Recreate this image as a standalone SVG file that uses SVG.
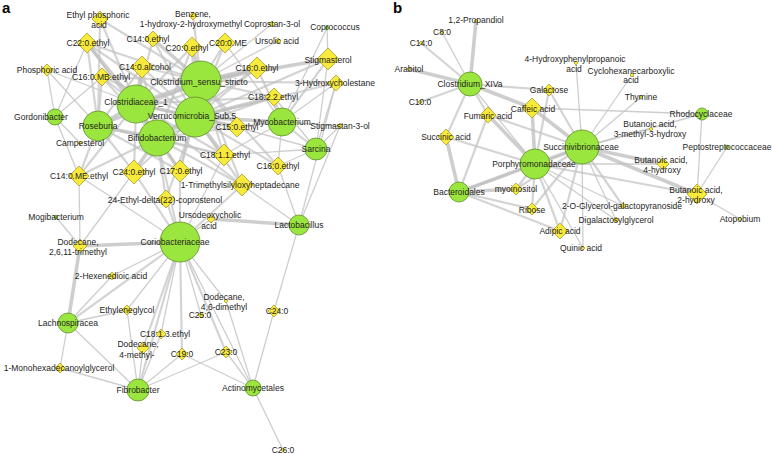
<svg xmlns="http://www.w3.org/2000/svg" width="772" height="454" viewBox="0 0 772 454">
<style>
.e1{stroke:#c6c6c6;stroke-width:1.3;stroke-opacity:.85}
.e2{stroke:#c2c2c2;stroke-width:2.2;stroke-opacity:.7}
.e3{stroke:#bdbdbd;stroke-width:3.6;stroke-opacity:.75}
.g{fill:#9be53f;stroke:#5f8f2a;stroke-width:.8}
.y{fill:#f7ea3a;stroke:#9f9424;stroke-width:.7}
text{font-family:"Liberation Sans",Arial,sans-serif;font-size:8.5px;fill:#1e1e1e;text-anchor:middle}
.pl{font-size:15px;font-weight:bold;text-anchor:start;fill:#000}
</style>
<rect width="772" height="454" fill="#fff"/>
<g id="connectors" stroke-linecap="round">
<g class="e1">
<line x1="55" y1="117" x2="47" y2="70"/><line x1="55" y1="117" x2="87" y2="43"/><line x1="55" y1="117" x2="102" y2="77"/><line x1="55" y1="117" x2="79" y2="176"/><line x1="55" y1="117" x2="80" y2="143"/>
<line x1="98" y1="126" x2="47" y2="70"/><line x1="136" y1="104" x2="47" y2="70"/>
<line x1="282" y1="122" x2="336" y2="83"/><line x1="282" y1="122" x2="278" y2="166"/><line x1="282" y1="122" x2="225" y2="43"/><line x1="282" y1="122" x2="327" y2="28"/><line x1="282" y1="122" x2="224" y2="155"/>
<line x1="316" y1="149" x2="224" y2="155"/><line x1="316" y1="149" x2="278" y2="166"/><line x1="316" y1="149" x2="328" y2="59"/><line x1="316" y1="149" x2="336" y2="83"/><line x1="316" y1="149" x2="274" y2="97"/><line x1="316" y1="149" x2="237" y2="127"/>
<line x1="299" y1="225" x2="278" y2="166"/><line x1="299" y1="225" x2="242" y2="185"/><line x1="299" y1="225" x2="340" y2="126"/><line x1="299" y1="225" x2="274" y2="311"/><line x1="299" y1="225" x2="336" y2="83"/>
<line x1="180" y1="242" x2="112" y2="276"/><line x1="180" y1="242" x2="127" y2="310"/><line x1="180" y1="242" x2="161" y2="334"/><line x1="180" y1="242" x2="201" y2="315"/><line x1="180" y1="242" x2="226" y2="301"/><line x1="180" y1="242" x2="253" y2="388"/><line x1="180" y1="242" x2="79" y2="176"/><line x1="180" y1="242" x2="224" y2="155"/><line x1="180" y1="242" x2="211" y2="219"/>
<line x1="68" y1="323" x2="127" y2="310"/><line x1="68" y1="323" x2="60" y2="368"/><line x1="68" y1="323" x2="138" y2="390"/><line x1="68" y1="323" x2="112" y2="276"/>
<line x1="138" y1="390" x2="60" y2="368"/><line x1="138" y1="390" x2="143" y2="348"/><line x1="138" y1="390" x2="161" y2="334"/><line x1="138" y1="390" x2="182" y2="354"/><line x1="138" y1="390" x2="226" y2="352"/><line x1="138" y1="390" x2="127" y2="310"/>
<line x1="253" y1="388" x2="274" y2="311"/><line x1="253" y1="388" x2="226" y2="352"/><line x1="253" y1="388" x2="283" y2="450"/><line x1="253" y1="388" x2="182" y2="354"/><line x1="253" y1="388" x2="226" y2="301"/>
<line x1="56" y1="217" x2="80" y2="246"/><line x1="80" y1="246" x2="134" y2="172"/><line x1="80" y1="246" x2="79" y2="176"/>
<line x1="201" y1="81" x2="272" y2="24"/><line x1="201" y1="81" x2="278" y2="41"/><line x1="327" y1="28" x2="328" y2="59"/><line x1="340" y1="126" x2="282" y2="122"/><line x1="340" y1="126" x2="316" y2="149"/>
<line x1="470" y1="84" x2="442" y2="32"/><line x1="582" y1="147" x2="576" y2="63"/><line x1="582" y1="147" x2="632" y2="75"/><line x1="582" y1="147" x2="641" y2="97"/><line x1="582" y1="147" x2="651" y2="129"/><line x1="582" y1="147" x2="616" y2="220"/><line x1="582" y1="147" x2="583" y2="248"/>
<line x1="535" y1="164" x2="583" y2="248"/><line x1="535" y1="164" x2="623" y2="206"/><line x1="532" y1="108" x2="702" y2="114"/><line x1="702" y1="114" x2="697" y2="194"/><line x1="727" y1="147" x2="697" y2="194"/><line x1="740" y1="219" x2="697" y2="194"/><line x1="535" y1="164" x2="616" y2="220"/><line x1="470" y1="84" x2="535" y2="164"/><line x1="535" y1="164" x2="663" y2="164"/><line x1="582" y1="147" x2="702" y2="114"/>
</g>
<g class="e2">
<line x1="136" y1="104" x2="100" y2="19"/><line x1="136" y1="104" x2="153" y2="39"/><line x1="136" y1="104" x2="192" y2="47"/><line x1="136" y1="104" x2="102" y2="77"/><line x1="136" y1="104" x2="257" y2="68"/><line x1="136" y1="104" x2="274" y2="97"/><line x1="136" y1="104" x2="237" y2="127"/><line x1="136" y1="104" x2="224" y2="155"/><line x1="136" y1="104" x2="134" y2="172"/><line x1="136" y1="104" x2="180" y2="171"/><line x1="136" y1="104" x2="79" y2="176"/><line x1="136" y1="104" x2="242" y2="185"/>
<line x1="201" y1="81" x2="100" y2="19"/><line x1="201" y1="81" x2="87" y2="43"/><line x1="201" y1="81" x2="225" y2="43"/><line x1="201" y1="81" x2="193" y2="16"/><line x1="201" y1="81" x2="142" y2="67"/><line x1="201" y1="81" x2="102" y2="77"/><line x1="201" y1="81" x2="274" y2="97"/><line x1="201" y1="81" x2="237" y2="127"/><line x1="201" y1="81" x2="224" y2="155"/><line x1="201" y1="81" x2="180" y2="171"/><line x1="201" y1="81" x2="336" y2="83"/><line x1="201" y1="81" x2="242" y2="185"/><line x1="201" y1="81" x2="278" y2="166"/><line x1="201" y1="81" x2="98" y2="126"/>
<line x1="195" y1="117" x2="87" y2="43"/><line x1="195" y1="117" x2="153" y2="39"/><line x1="195" y1="117" x2="192" y2="47"/><line x1="195" y1="117" x2="225" y2="43"/><line x1="195" y1="117" x2="142" y2="67"/><line x1="195" y1="117" x2="102" y2="77"/><line x1="195" y1="117" x2="257" y2="68"/><line x1="195" y1="117" x2="134" y2="172"/><line x1="195" y1="117" x2="180" y2="171"/><line x1="195" y1="117" x2="166" y2="199"/><line x1="195" y1="117" x2="242" y2="185"/><line x1="195" y1="117" x2="328" y2="59"/><line x1="195" y1="117" x2="278" y2="166"/><line x1="195" y1="117" x2="336" y2="83"/>
<line x1="157" y1="138" x2="87" y2="43"/><line x1="157" y1="138" x2="142" y2="67"/><line x1="157" y1="138" x2="102" y2="77"/><line x1="157" y1="138" x2="257" y2="68"/><line x1="157" y1="138" x2="274" y2="97"/><line x1="157" y1="138" x2="237" y2="127"/><line x1="157" y1="138" x2="224" y2="155"/><line x1="157" y1="138" x2="79" y2="176"/><line x1="157" y1="138" x2="166" y2="199"/><line x1="157" y1="138" x2="242" y2="185"/><line x1="157" y1="138" x2="192" y2="47"/><line x1="157" y1="138" x2="180" y2="242"/>
<line x1="98" y1="126" x2="87" y2="43"/><line x1="98" y1="126" x2="100" y2="19"/><line x1="98" y1="126" x2="142" y2="67"/><line x1="98" y1="126" x2="102" y2="77"/><line x1="98" y1="126" x2="79" y2="176"/><line x1="98" y1="126" x2="134" y2="172"/><line x1="98" y1="126" x2="180" y2="171"/><line x1="98" y1="126" x2="257" y2="68"/><line x1="98" y1="126" x2="224" y2="155"/>
<line x1="180" y1="242" x2="180" y2="171"/><line x1="180" y1="242" x2="242" y2="185"/><line x1="180" y1="242" x2="166" y2="199"/><line x1="180" y1="242" x2="134" y2="172"/><line x1="180" y1="242" x2="138" y2="390"/><line x1="180" y1="242" x2="68" y2="323"/><line x1="180" y1="242" x2="143" y2="348"/><line x1="180" y1="242" x2="182" y2="354"/><line x1="180" y1="242" x2="226" y2="352"/>
<line x1="282" y1="122" x2="328" y2="59"/><line x1="282" y1="122" x2="257" y2="68"/><line x1="282" y1="122" x2="274" y2="97"/><line x1="282" y1="122" x2="237" y2="127"/><line x1="282" y1="122" x2="316" y2="149"/>
<line x1="470" y1="84" x2="421" y2="43"/><line x1="470" y1="84" x2="420" y2="102"/><line x1="470" y1="84" x2="549" y2="90"/><line x1="470" y1="84" x2="488" y2="115"/><line x1="470" y1="84" x2="446" y2="137"/>
<line x1="582" y1="147" x2="488" y2="115"/><line x1="582" y1="147" x2="549" y2="90"/><line x1="582" y1="147" x2="516" y2="189"/><line x1="582" y1="147" x2="532" y2="209"/><line x1="582" y1="147" x2="560" y2="231"/><line x1="582" y1="147" x2="459" y2="192"/>
<line x1="535" y1="164" x2="446" y2="137"/><line x1="535" y1="164" x2="516" y2="189"/><line x1="535" y1="164" x2="532" y2="209"/><line x1="535" y1="164" x2="560" y2="231"/><line x1="535" y1="164" x2="549" y2="90"/>
<line x1="459" y1="192" x2="488" y2="115"/><line x1="459" y1="192" x2="532" y2="209"/><line x1="459" y1="192" x2="560" y2="231"/><line x1="535" y1="164" x2="697" y2="194"/><line x1="582" y1="147" x2="623" y2="206"/>
</g>
<g class="e3">
<line x1="136" y1="104" x2="201" y2="81"/><line x1="136" y1="104" x2="195" y2="117"/><line x1="136" y1="104" x2="157" y2="138"/><line x1="201" y1="81" x2="195" y2="117"/><line x1="195" y1="117" x2="157" y2="138"/><line x1="136" y1="104" x2="98" y2="126"/><line x1="157" y1="138" x2="98" y2="126"/>
<line x1="201" y1="81" x2="257" y2="68"/><line x1="195" y1="117" x2="237" y2="127"/><line x1="136" y1="104" x2="142" y2="67"/><line x1="201" y1="81" x2="192" y2="47"/><line x1="195" y1="117" x2="224" y2="155"/><line x1="157" y1="138" x2="134" y2="172"/><line x1="157" y1="138" x2="180" y2="171"/>
<line x1="180" y1="242" x2="80" y2="246"/><line x1="299" y1="225" x2="211" y2="219"/><line x1="68" y1="323" x2="80" y2="246"/><line x1="136" y1="104" x2="87" y2="43"/><line x1="201" y1="81" x2="153" y2="39"/><line x1="195" y1="117" x2="274" y2="97"/><line x1="201" y1="81" x2="328" y2="59"/><line x1="195" y1="117" x2="282" y2="122"/>
<line x1="470" y1="84" x2="476" y2="21"/><line x1="470" y1="84" x2="409" y2="69"/><line x1="470" y1="84" x2="532" y2="108"/><line x1="582" y1="147" x2="663" y2="164"/><line x1="582" y1="147" x2="697" y2="194"/><line x1="459" y1="192" x2="446" y2="137"/><line x1="459" y1="192" x2="516" y2="189"/><line x1="535" y1="164" x2="532" y2="108"/><line x1="582" y1="147" x2="532" y2="108"/><line x1="535" y1="164" x2="488" y2="115"/><line x1="582" y1="147" x2="535" y2="164"/><line x1="459" y1="192" x2="535" y2="164"/>
</g>
</g>
<text class="pl" x="2" y="13">a</text>
<text class="pl" x="393" y="13">b</text>
<g id="Clostridiaceae_1"><circle class="g" cx="136" cy="104" r="19"/><text x="136" y="105">Clostridiaceae_1</text></g>
<g id="Clostridium_sensu_stricto"><circle class="g" cx="201" cy="81" r="20"/><text x="199" y="85">Clostridium_sensu_stricto</text></g>
<g id="Verrucomicrobia_Sub5"><circle class="g" cx="195" cy="117" r="20"/><text x="192" y="119">Verrucomicrobia_Sub.5</text></g>
<g id="Bifidobacterium"><circle class="g" cx="157" cy="138" r="18"/><text x="157" y="141">Bifidobacterium</text></g>
<g id="Roseburia"><circle class="g" cx="98" cy="126" r="15"/><text x="98" y="129">Roseburia</text></g>
<g id="Gordonibacter"><circle class="g" cx="55" cy="117" r="8"/><text x="41" y="120">Gordonibacter</text></g>
<g id="Mycobacterium"><circle class="g" cx="282" cy="122" r="14"/><text x="282" y="125">Mycobacterium</text></g>
<g id="Sarcina"><circle class="g" cx="316" cy="149" r="11"/><text x="316" y="152">Sarcina</text></g>
<g id="Lactobacillus"><circle class="g" cx="299" cy="225" r="10"/><text x="299" y="228">Lactobacillus</text></g>
<g id="Coriobacteriaceae"><circle class="g" cx="180" cy="242" r="20"/><text x="175" y="245">Coriobacteriaceae</text></g>
<g id="Lachnospiracea"><circle class="g" cx="68" cy="323" r="10"/><text x="68" y="326">Lachnospiracea</text></g>
<g id="Fibrobacter"><circle class="g" cx="138" cy="390" r="11"/><text x="138" y="393">Fibrobacter</text></g>
<g id="Actinomycetales"><circle class="g" cx="253" cy="388" r="8"/><text x="253" y="391">Actinomycetales</text></g>
<g id="Mogibacterium"><circle class="g" cx="56" cy="217" r="1.8"/><text x="56" y="220">Mogibacterium</text></g>
<g id="Coprococcus"><circle class="g" cx="327" cy="28" r="1.8"/><text x="335" y="30">Coprococcus</text></g>
<g id="Ethyl_phosphoric_acid"><path class="y" d="M100,11l8,8l-8,8l-8,-8z"/><text x="98" y="18">Ethyl phosphoric</text><text x="99" y="28">acid</text></g>
<g id="Benzene"><path class="y" d="M193,12l4,4l-4,4l-4,-4z"/><text x="193" y="17">Benzene,</text><text x="191" y="27">1-hydroxy-2-hydroxymethyl</text></g>
<g id="C22_0_ethyl"><path class="y" d="M87,33l10,10l-10,10l-10,-10z"/><text x="88" y="46">C22:0.ethyl</text></g>
<g id="C14_0_ethyl"><path class="y" d="M153,31l8,8l-8,8l-8,-8z"/><text x="148" y="42">C14:0.ethyl</text></g>
<g id="C20_0_ethyl"><path class="y" d="M192,37l10,10l-10,10l-10,-10z"/><text x="187" y="51">C20:0.ethyl</text></g>
<g id="C20_0_ME"><path class="y" d="M225,33l10,10l-10,10l-10,-10z"/><text x="228" y="46">C20:0.ME</text></g>
<g id="Coprostan-3-ol"><path class="y" d="M272,21l3,3l-3,3l-3,-3z"/><text x="272" y="27">Coprostan-3-ol</text></g>
<g id="Ursolic_acid"><path class="y" d="M278,38l3,3l-3,3l-3,-3z"/><text x="277" y="44">Ursolic acid</text></g>
<g id="Stigmasterol"><path class="y" d="M328,48l11,11l-11,11l-11,-11z"/><text x="328" y="63">Stigmasterol</text></g>
<g id="3-Hydroxycholestane"><path class="y" d="M336,75l8,8l-8,8l-8,-8z"/><text x="335" y="86">3-Hydroxycholestane</text></g>
<g id="C18_0_ethyl"><path class="y" d="M257,57l11,11l-11,11l-11,-11z"/><text x="257" y="71">C18:0.ethyl</text></g>
<g id="C18_2_2_ethyl"><path class="y" d="M274,88l9,9l-9,9l-9,-9z"/><text x="273" y="100">C18:2.2.ethyl</text></g>
<g id="Stigmastan-3-ol"><path class="y" d="M340,123l3,3l-3,3l-3,-3z"/><text x="340" y="129">Stigmastan-3-ol</text></g>
<g id="C15_0_ethyl"><path class="y" d="M237,117l10,10l-10,10l-10,-10z"/><text x="237" y="130">C15:0.ethyl</text></g>
<g id="C14_0_alcohol"><path class="y" d="M142,56l11,11l-11,11l-11,-11z"/><text x="145" y="70">C14:0.alcohol</text></g>
<g id="C16_0_MB_ethyl"><path class="y" d="M102,68l9,9l-9,9l-9,-9z"/><text x="101" y="80">C16:0.MB.ethyl</text></g>
<g id="Phosphoric_acid"><path class="y" d="M47,64l6,6l-6,6l-6,-6z"/><text x="47" y="73">Phosphoric acid</text></g>
<g id="Campesterol"><path class="y" d="M80,141l2,2l-2,2l-2,-2z"/><text x="80" y="146">Campesterol</text></g>
<g id="C14_0_ME_ethyl"><path class="y" d="M79,166l10,10l-10,10l-10,-10z"/><text x="79" y="179">C14:0.ME.ethyl</text></g>
<g id="C24_0_ethyl"><path class="y" d="M134,160l12,12l-12,12l-12,-12z"/><text x="134" y="175">C24:0.ethyl</text></g>
<g id="C17_0_ethyl"><path class="y" d="M180,160l11,11l-11,11l-11,-11z"/><text x="181" y="174">C17:0.ethyl</text></g>
<g id="C18_1_1_ethyl"><path class="y" d="M224,144l11,11l-11,11l-11,-11z"/><text x="225" y="158">C18:1.1.ethyl</text></g>
<g id="C16_0_ethyl"><path class="y" d="M278,157l9,9l-9,9l-9,-9z"/><text x="278" y="169">C16:0.ethyl</text></g>
<g id="1-Trimethylsilyloxyheptadecane"><path class="y" d="M242,174l11,11l-11,11l-11,-11z"/><text x="240" y="188">1-Trimethylsilyloxyheptadecane</text></g>
<g id="24-Ethyl-delta22-coprostenol"><path class="y" d="M166,190l9,9l-9,9l-9,-9z"/><text x="165" y="203">24-Ethyl-delta(22)-coprostenol</text></g>
<g id="Ursodeoxycholic_acid"><path class="y" d="M211,215l4,4l-4,4l-4,-4z"/><text x="210" y="218">Ursodeoxycholic</text><text x="209" y="229">acid</text></g>
<g id="Dodecane_2_6_11-trimethyl"><path class="y" d="M80,239l7,7l-7,7l-7,-7z"/><text x="78" y="245">Dodecane,</text><text x="78" y="255">2,6,11-trimethyl</text></g>
<g id="2-Hexenedioic_acid"><path class="y" d="M112,272l4,4l-4,4l-4,-4z"/><text x="111" y="279">2-Hexenedioic acid</text></g>
<g id="Ethyleneglycol"><path class="y" d="M127,305l5,5l-5,5l-5,-5z"/><text x="127" y="313">Ethyleneglycol</text></g>
<g id="C18_1_3_ethyl"><path class="y" d="M161,329l5,5l-5,5l-5,-5z"/><text x="165" y="337">C18:1.3.ethyl</text></g>
<g id="Dodecane_4-methyl"><path class="y" d="M143,342l6,6l-6,6l-6,-6z"/><text x="138" y="347">Dodecane,</text><text x="137" y="358">4-methyl-</text></g>
<g id="C19_0"><path class="y" d="M182,348l6,6l-6,6l-6,-6z"/><text x="182" y="357">C19:0</text></g>
<g id="1-Monohexadecanoylglycerol"><path class="y" d="M60,363l5,5l-5,5l-5,-5z"/><text x="59" y="371">1-Monohexadecanoylglycerol</text></g>
<g id="C25_0"><path class="y" d="M201,312l3,3l-3,3l-3,-3z"/><text x="200" y="318">C25:0</text></g>
<g id="Dodecane_4_6-dimethyl"><path class="y" d="M226,299l2,2l-2,2l-2,-2z"/><text x="224" y="300">Dodecane,</text><text x="224" y="310">4,6-dimethyl</text></g>
<g id="C24_0"><path class="y" d="M274,305l6,6l-6,6l-6,-6z"/><text x="277" y="314">C24:0</text></g>
<g id="C23_0"><path class="y" d="M226,346l6,6l-6,6l-6,-6z"/><text x="226" y="355">C23:0</text></g>
<g id="C26_0"><path class="y" d="M283,448l2,2l-2,2l-2,-2z"/><text x="283" y="453">C26:0</text></g>
<g id="Clostridium_XIVa"><circle class="g" cx="470" cy="84" r="12"/><text x="470" y="87">Clostridium_XIVa</text></g>
<g id="Succinivibrionaceae"><circle class="g" cx="582" cy="147" r="17"/><text x="581" y="150">Succinivibrionaceae</text></g>
<g id="Porphyromonadaceae"><circle class="g" cx="535" cy="164" r="15"/><text x="534" y="167">Porphyromonadaceae</text></g>
<g id="Bacteroidales"><circle class="g" cx="459" cy="192" r="10"/><text x="459" y="195">Bacteroidales</text></g>
<g id="Rhodocyclaceae"><circle class="g" cx="702" cy="114" r="6"/><text x="701" y="117">Rhodocyclaceae</text></g>
<g id="Peptostreptococcaceae"><circle class="g" cx="727" cy="147" r="1.8"/><text x="727" y="150">Peptostreptococcaceae</text></g>
<g id="Atopobium"><path class="y" d="M740,217l2,2l-2,2l-2,-2z"/><text x="740" y="222">Atopobium</text></g>
<g id="1_2-Propandiol"><path class="y" d="M476,19l2,2l-2,2l-2,-2z"/><text x="476" y="23">1,2-Propandiol</text></g>
<g id="C8_0"><path class="y" d="M442,30l2,2l-2,2l-2,-2z"/><text x="442" y="35">C8:0</text></g>
<g id="C14_0"><path class="y" d="M421,41l2,2l-2,2l-2,-2z"/><text x="421" y="46">C14:0</text></g>
<g id="Arabitol"><path class="y" d="M409,67l2,2l-2,2l-2,-2z"/><text x="409" y="72">Arabitol</text></g>
<g id="C10_0"><path class="y" d="M420,100l2,2l-2,2l-2,-2z"/><text x="420" y="105">C10:0</text></g>
<g id="4-Hydroxyphenylpropanoic_acid"><path class="y" d="M576,61l2,2l-2,2l-2,-2z"/><text x="575" y="62">4-Hydroxyphenylpropanoic</text><text x="574" y="72">acid</text></g>
<g id="Cyclohexanecarboxylic_acid"><path class="y" d="M632,73l2,2l-2,2l-2,-2z"/><text x="631" y="74">Cyclohexanecarboxylic</text><text x="631" y="83">acid</text></g>
<g id="Thymine"><path class="y" d="M641,95l2,2l-2,2l-2,-2z"/><text x="641" y="100">Thymine</text></g>
<g id="Butanoic_acid_3-methyl-3-hydroxy"><path class="y" d="M651,127l2,2l-2,2l-2,-2z"/><text x="650" y="127">Butanoic acid,</text><text x="650" y="137">3-methyl-3-hydroxy</text></g>
<g id="Galactose"><path class="y" d="M549,84l6,6l-6,6l-6,-6z"/><text x="549" y="93">Galactose</text></g>
<g id="Caffeic_acid"><path class="y" d="M532,98l10,10l-10,10l-10,-10z"/><text x="533" y="112">Caffeic acid</text></g>
<g id="Fumaric_acid"><path class="y" d="M488,107l8,8l-8,8l-8,-8z"/><text x="488" y="119">Fumaric acid</text></g>
<g id="Succinic_acid"><path class="y" d="M446,129l8,8l-8,8l-8,-8z"/><text x="446" y="140">Succinic acid</text></g>
<g id="myoinositol"><path class="y" d="M516,183l6,6l-6,6l-6,-6z"/><text x="516" y="192">myoinositol</text></g>
<g id="Ribose"><path class="y" d="M532,203l6,6l-6,6l-6,-6z"/><text x="532" y="213">Ribose</text></g>
<g id="Adipic_acid"><path class="y" d="M560,223l8,8l-8,8l-8,-8z"/><text x="560" y="234">Adipic acid</text></g>
<g id="Quinic_acid"><path class="y" d="M583,246l2,2l-2,2l-2,-2z"/><text x="581" y="251">Quinic acid</text></g>
<g id="Butanoic_acid_4-hydroxy"><path class="y" d="M663,158l6,6l-6,6l-6,-6z"/><text x="661" y="163">Butanoic acid,</text><text x="662" y="173">4-hydroxy</text></g>
<g id="Butanoic_acid_2-hydroxy"><path class="y" d="M697,184l10,10l-10,10l-10,-10z"/><text x="696" y="193">Butanoic acid,</text><text x="696" y="203">2-hydroxy</text></g>
<g id="2-O-Glycerol-galactopyranoside"><path class="y" d="M623,203l3,3l-3,3l-3,-3z"/><text x="622" y="209">2-O-Glycerol-galactopyranoside</text></g>
<g id="Digalactosylglycerol"><path class="y" d="M616,217l3,3l-3,3l-3,-3z"/><text x="616" y="223">Digalactosylglycerol</text></g>
</svg>
